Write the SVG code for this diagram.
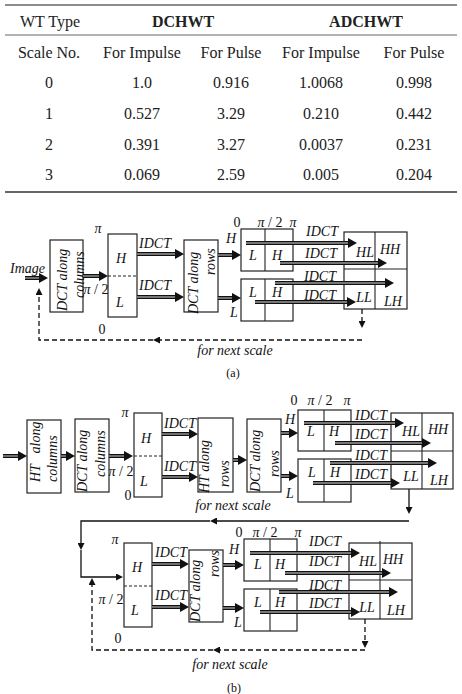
<svg xmlns="http://www.w3.org/2000/svg" width="462" height="694" viewBox="0 0 462 694">
<defs>
<marker id="ah" markerUnits="userSpaceOnUse" viewBox="0 0 9 10" refX="0" refY="5" markerWidth="9" markerHeight="10" orient="auto"><path d="M0,0 L9,5 L0,10 z" fill="#111"/></marker>
<marker id="as" markerUnits="userSpaceOnUse" viewBox="0 0 7 7" refX="0" refY="3.5" markerWidth="7" markerHeight="7" orient="auto"><path d="M0,0 L7,3.5 L0,7 z" fill="#111"/></marker>
</defs>
<style>
.t{font-family:"Liberation Serif","Times New Roman",serif;font-size:16px;fill:#222;text-anchor:middle}
.b{font-weight:bold}
.i{font-family:"Liberation Serif","Times New Roman",serif;font-style:italic;font-size:14px;fill:#111}
.u{font-family:"Liberation Serif","Times New Roman",serif;font-size:14px;fill:#111}
.s{font-family:"Liberation Serif","Times New Roman",serif;font-size:12px;fill:#111;text-anchor:middle}
.c{text-anchor:middle}
.box{fill:#fff;stroke:#222;stroke-width:1.2}
.dv{stroke:#222;stroke-width:1.1;fill:none}
.dd{stroke:#222;stroke-width:1;stroke-dasharray:3,2;fill:none}
.ao{stroke:#111;stroke-width:4;fill:none;marker-end:url(#ah)}
.ai{stroke:#9a9a9a;stroke-width:1.4;fill:none}
.th{stroke:#111;stroke-width:1.3;fill:none}
.dl{stroke:#111;stroke-width:1.3;stroke-dasharray:5,3;fill:none}
.rule{stroke:#666;fill:none}
</style>

<g id="table">
<line class="rule" x1="5" y1="5" x2="457" y2="5" stroke-width="1.6"/>
<line class="rule" x1="5" y1="35" x2="457" y2="35" stroke-width="1" stroke="#999"/>
<line class="rule" x1="5" y1="192" x2="457" y2="192" stroke-width="1.8" stroke="#555"/>
<text class="t" x="50" y="27">WT Type</text>
<text class="t b" x="183" y="27">DCHWT</text>
<text class="t b" x="366" y="27">ADCHWT</text>
<text class="t" x="49" y="58">Scale No.</text>
<text class="t" x="142" y="58">For Impulse</text>
<text class="t" x="231" y="58">For Pulse</text>
<text class="t" x="321" y="58">For Impulse</text>
<text class="t" x="414" y="58">For Pulse</text>
<text class="t" x="49" y="88">0</text><text class="t" x="142" y="88">1.0</text><text class="t" x="231" y="88">0.916</text><text class="t" x="321" y="88">1.0068</text><text class="t" x="414" y="88">0.998</text>
<text class="t" x="49" y="119">1</text><text class="t" x="142" y="119">0.527</text><text class="t" x="231" y="119">3.29</text><text class="t" x="321" y="119">0.210</text><text class="t" x="414" y="119">0.442</text>
<text class="t" x="49" y="150">2</text><text class="t" x="142" y="150">0.391</text><text class="t" x="231" y="150">3.27</text><text class="t" x="321" y="150">0.0037</text><text class="t" x="414" y="150">0.231</text>
<text class="t" x="49" y="180">3</text><text class="t" x="142" y="180">0.069</text><text class="t" x="231" y="180">2.59</text><text class="t" x="321" y="180">0.005</text><text class="t" x="414" y="180">0.204</text>
</g>

<!-- ===== (a) ===== -->
<g id="a-image"><text class="i" x="10" y="273" font-size="13">Image</text></g>
<g id="a-dctcol">
<rect class="box" x="50" y="240" width="33" height="72"/>
<text class="i" x="67" y="311" transform="rotate(-90 67 311)">DCT along</text>
<text class="i" x="84" y="298" transform="rotate(-90 84 298)">columns</text>
</g>
<g id="a-hl">
<rect class="box" x="108" y="234" width="29" height="83"/>
<line class="dd" x1="108" y1="276" x2="137" y2="276"/>
<text class="i c" x="121" y="263">H</text>
<text class="i c" x="120" y="307">L</text>
<text class="i c" x="98" y="233">π</text>
<text class="u c" x="96" y="294"><tspan font-style="italic">π</tspan> / 2</text>
<text class="u c" x="102" y="334">0</text>
</g>
<g id="a-dctrows">
<rect class="box" x="184" y="240" width="34" height="72"/>
<text class="i" x="198" y="314" transform="rotate(-90 198 314)">DCT along</text>
<text class="i" x="215" y="275" transform="rotate(-90 215 275)">rows</text>
<text class="i c" x="231" y="243">H</text>
<text class="i c" x="234" y="317">L</text>
</g>
<g id="a-lh1">
<rect class="box" x="241" y="229" width="52" height="42"/>
<line class="dv" x1="265" y1="229" x2="265" y2="271"/>
<text class="u c" x="237" y="227">0</text>
<text class="u c" x="270" y="227"><tspan font-style="italic">π</tspan> / 2</text>
<text class="i c" x="293" y="227">π</text>
<text class="i c" x="253" y="260">L</text>
<text class="i c" x="277" y="260">H</text>
</g>
<g id="a-lh2">
<rect class="box" x="241" y="279" width="52" height="42"/>
<line class="dv" x1="265" y1="279" x2="265" y2="321"/>
<text class="i c" x="253" y="297">L</text>
<text class="i c" x="277" y="297">H</text>
</g>
<g id="a-out">
<rect class="box" x="344" y="232" width="63" height="77"/>
<line class="dv" x1="375" y1="232" x2="375" y2="309"/>
<line class="dv" x1="344" y1="269" x2="407" y2="269"/>
<text class="i c" x="365" y="257">HL</text>
<text class="i c" x="390" y="254">HH</text>
<text class="i c" x="364" y="302">LL</text>
<text class="i c" x="393" y="306">LH</text>
</g>
<g id="a-labels">
<text class="i c" x="155" y="248">IDCT</text>
<text class="i c" x="155" y="290">IDCT</text>
<text class="i c" x="322" y="236">IDCT</text>
<text class="i c" x="321" y="258">IDCT</text>
<text class="i c" x="320" y="281">IDCT</text>
<text class="i c" x="320" y="300">IDCT</text>
<text class="i c" x="235" y="355">for next scale</text>
<text class="s" x="233" y="377">(a)</text>
</g>

<!-- ===== (b) ===== -->
<g id="b-htcol">
<rect class="box" x="27" y="420" width="34" height="73"/>
<text class="i" x="40" y="482" transform="rotate(-90 40 482)">HT<tspan dx="12">along</tspan></text>
<text class="i" x="57" y="482" transform="rotate(-90 57 482)">columns</text>
</g>
<g id="b-dctcol">
<rect class="box" x="75" y="419" width="34" height="73"/>
<text class="i" x="87" y="492" transform="rotate(-90 87 492)">DCT along</text>
<text class="i" x="105" y="477" transform="rotate(-90 105 477)">columns</text>
</g>
<g id="b-hl1">
<rect class="box" x="134" y="413" width="28" height="84"/>
<line class="dd" x1="134" y1="456" x2="162" y2="456"/>
<text class="i c" x="146" y="443">H</text>
<text class="i c" x="144" y="486">L</text>
<text class="i c" x="125" y="417">π</text>
<text class="u c" x="121" y="476"><tspan font-style="italic">π</tspan> / 2</text>
<text class="u c" x="128" y="500">0</text>
</g>
<g id="b-htrows">
<rect class="box" x="198" y="418" width="35" height="74"/>
<text class="i" x="209" y="493" transform="rotate(-90 209 493)">HT along</text>
<text class="i" x="229" y="487" transform="rotate(-90 229 487)">rows</text>
</g>
<g id="b-dctrows1">
<rect class="box" x="247" y="419" width="34" height="73"/>
<text class="i" x="260" y="492" transform="rotate(-90 260 492)">DCT along</text>
<text class="i" x="279" y="477" transform="rotate(-90 279 477)">rows</text>
<text class="i c" x="290" y="424">H</text>
<text class="i c" x="290" y="498">L</text>
</g>
<g id="b-lh1">
<rect class="box" x="298" y="410" width="53" height="41"/>
<line class="dv" x1="324" y1="410" x2="324" y2="451"/>
<text class="u c" x="294" y="405">0</text>
<text class="u c" x="320" y="405"><tspan font-style="italic">π</tspan> / 2</text>
<text class="i c" x="347" y="405">π</text>
<text class="i c" x="311" y="436">L</text>
<text class="i c" x="334" y="436">H</text>
</g>
<g id="b-lh2">
<rect class="box" x="298" y="459" width="53" height="43"/>
<line class="dv" x1="324" y1="459" x2="324" y2="502"/>
<text class="i c" x="312" y="477">L</text>
<text class="i c" x="335" y="477">H</text>
</g>
<g id="b-out1">
<rect class="box" x="391" y="413" width="62" height="76"/>
<line class="dv" x1="422" y1="413" x2="422" y2="489"/>
<line class="dv" x1="391" y1="451" x2="453" y2="451"/>
<text class="i c" x="411" y="436">HL</text>
<text class="i c" x="438" y="434">HH</text>
<text class="i c" x="411" y="481">LL</text>
<text class="i c" x="439" y="485">LH</text>
</g>
<g id="b-hl2">
<rect class="box" x="124" y="543" width="28" height="84"/>
<line class="dd" x1="124" y1="586" x2="152" y2="586"/>
<text class="i c" x="137" y="572">H</text>
<text class="i c" x="135" y="615">L</text>
<text class="i c" x="115" y="544">π</text>
<text class="u c" x="111" y="604"><tspan font-style="italic">π</tspan> / 2</text>
<text class="u c" x="118" y="643">0</text>
</g>
<g id="b-dctrows2">
<rect class="box" x="189" y="550" width="34" height="72"/>
<text class="i" x="200" y="622" transform="rotate(-90 200 622)">DCT along</text>
<text class="i" x="219" y="577" transform="rotate(-90 219 577)">rows</text>
<text class="i c" x="234" y="554">H</text>
<text class="i c" x="238" y="627">L</text>
</g>
<g id="b-lh3">
<rect class="box" x="244" y="539" width="53" height="42"/>
<line class="dv" x1="270" y1="539" x2="270" y2="581"/>
<text class="u c" x="239" y="537">0</text>
<text class="u c" x="265" y="537"><tspan font-style="italic">π</tspan> / 2</text>
<text class="i c" x="298" y="537">π</text>
<text class="i c" x="258" y="569">L</text>
<text class="i c" x="280" y="569">H</text>
</g>
<g id="b-lh4">
<rect class="box" x="244" y="589" width="53" height="42"/>
<line class="dv" x1="270" y1="589" x2="270" y2="631"/>
<text class="i c" x="258" y="607">L</text>
<text class="i c" x="280" y="607">H</text>
</g>
<g id="b-out2">
<rect class="box" x="349" y="543" width="63" height="76"/>
<line class="dv" x1="380" y1="541" x2="380" y2="619"/>
<line class="dv" x1="349" y1="580" x2="412" y2="580"/>
<text class="i c" x="368" y="566">HL</text>
<text class="i c" x="393" y="564">HH</text>
<text class="i c" x="367" y="612">LL</text>
<text class="i c" x="396" y="615">LH</text>
</g>
<g id="b-labels">
<text class="i c" x="180" y="428">IDCT</text>
<text class="i c" x="180" y="471">IDCT</text>
<text class="i c" x="371" y="420">IDCT</text>
<text class="i c" x="371" y="439">IDCT</text>
<text class="i c" x="371" y="460">IDCT</text>
<text class="i c" x="371" y="479">IDCT</text>
<text class="i c" x="233" y="510">for next scale</text>
<text class="i c" x="171" y="557">IDCT</text>
<text class="i c" x="171" y="600">IDCT</text>
<text class="i c" x="325" y="546">IDCT</text>
<text class="i c" x="325" y="566">IDCT</text>
<text class="i c" x="325" y="590">IDCT</text>
<text class="i c" x="325" y="608">IDCT</text>
<text class="i c" x="230" y="669">for next scale</text>
<text class="s" x="234" y="692">(b)</text>
</g>

<g id="connectors">
<!-- (a) thick -->
<path class="ao" d="M25,278 H39"/><path class="ai" d="M25,278 H39"/>
<path class="ao" d="M83,276 H99"/><path class="ai" d="M83,276 H99"/>
<path class="ao" d="M137,254 H175"/><path class="ai" d="M137,254 H175"/>
<path class="ao" d="M137,297 H175"/><path class="ai" d="M137,297 H175"/>
<path class="ao" d="M218,255 H232"/><path class="ai" d="M218,255 H232"/>
<path class="ao" d="M218,298 H232"/><path class="ai" d="M218,298 H232"/>
<path class="ao" d="M246,243 H348"/><path class="ai" d="M246,243 H348"/>
<path class="ao" d="M280,263 H378"/><path class="ai" d="M280,263 H378"/>
<path class="ao" d="M275,283 H385"/><path class="ai" d="M275,283 H385"/>
<path class="ao" d="M255,302 H347"/><path class="ai" d="M255,302 H347"/>
<!-- (a) feedback -->
<path class="dl" d="M362,309 V321" marker-end="url(#as)"/>
<path class="dl" d="M362,340 H160" marker-end="url(#as)"/>
<path class="dl" d="M153,340 H39 V295" marker-end="url(#as)"/>
<!-- (b) thick -->
<path class="ao" d="M3,456 H18"/><path class="ai" d="M3,456 H18"/>
<path class="ao" d="M61,456 H66"/><path class="ai" d="M61,456 H66"/>
<path class="ao" d="M109,456 H124"/><path class="ai" d="M109,456 H124"/>
<path class="ao" d="M162,434 H189"/><path class="ai" d="M162,434 H189"/>
<path class="ao" d="M162,477 H189"/><path class="ai" d="M162,477 H189"/>
<path class="ao" d="M233,460 H238"/><path class="ai" d="M233,460 H238"/>
<path class="ao" d="M281,433 H289"/><path class="ai" d="M281,433 H289"/>
<path class="ao" d="M281,476 H289"/><path class="ai" d="M281,476 H289"/>
<path class="ao" d="M304,423 H395"/><path class="ai" d="M304,423 H395"/>
<path class="ao" d="M335,443 H422"/><path class="ai" d="M335,443 H422"/>
<path class="ao" d="M330,463 H428"/><path class="ai" d="M330,463 H428"/>
<path class="ao" d="M313,483 H391"/><path class="ai" d="M313,483 H391"/>
<!-- (b) next-scale solid -->
<path class="th" d="M409,489 V507" marker-end="url(#as)"/>
<path class="th" d="M409,521 H217" marker-end="url(#as)"/>
<path class="th" d="M210,521 H81 V543" marker-end="url(#as)"/>
<path class="th" d="M81,550 V577 H116" marker-end="url(#as)"/>
<!-- (b) lower thick -->
<path class="ao" d="M152,564 H180"/><path class="ai" d="M152,564 H180"/>
<path class="ao" d="M152,607 H180"/><path class="ai" d="M152,607 H180"/>
<path class="ao" d="M223,565 H235"/><path class="ai" d="M223,565 H235"/>
<path class="ao" d="M223,608 H235"/><path class="ai" d="M223,608 H235"/>
<path class="ao" d="M250,553 H351"/><path class="ai" d="M250,553 H351"/>
<path class="ao" d="M285,573 H382"/><path class="ai" d="M285,573 H382"/>
<path class="ao" d="M279,592 H389"/><path class="ai" d="M279,592 H389"/>
<path class="ao" d="M260,612 H351"/><path class="ai" d="M260,612 H351"/>
<!-- (b) lower feedback -->
<path class="dl" d="M365,619 V641" marker-end="url(#as)"/>
<path class="dl" d="M365,650 H220" marker-end="url(#as)"/>
<path class="dl" d="M213,650 H92 V585" marker-end="url(#as)"/>
</g>
</svg>
